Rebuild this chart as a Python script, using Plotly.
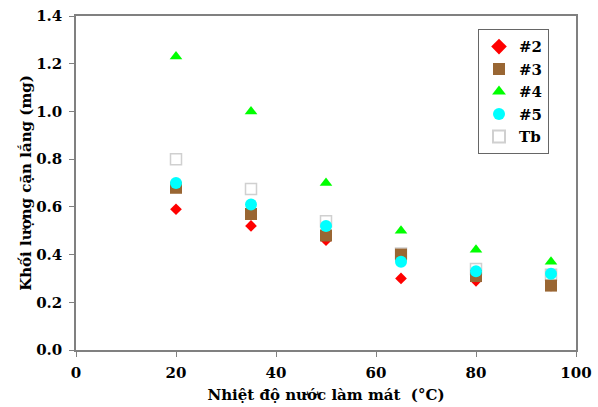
import plotly.graph_objects as go

temps = [20, 35, 50, 65, 80, 95]
s2 = [0.59, 0.52, 0.46, 0.30, 0.29, 0.27]
s3 = [0.68, 0.57, 0.48, 0.40, 0.31, 0.27]
s4 = [1.23, 1.00, 0.70, 0.50, 0.42, 0.37]
s5 = [0.70, 0.61, 0.52, 0.37, 0.33, 0.32]
tb = [0.80, 0.675, 0.54, 0.405, 0.34, 0.315]

x_ticks = [0, 20, 40, 60, 80, 100]
y_ticks = [0.0, 0.2, 0.4, 0.6, 0.8, 1.0, 1.2, 1.4]

FONT = "DejaVu Serif"

fig = go.Figure()
fig.add_trace(go.Scatter(x=temps, y=tb, mode="markers", name="Tb",
                         marker=dict(symbol="square-open", size=11, color="#d0d0d0",
                                     line=dict(width=1.5, color="#d0d0d0"))))
fig.add_trace(go.Scatter(x=temps, y=s2, mode="markers", name="#2",
                         marker=dict(symbol="diamond", size=9, color="#ff0000")))
fig.add_trace(go.Scatter(x=temps, y=s3, mode="markers", name="#3",
                         marker=dict(symbol="square", size=12, color="#996633")))
fig.add_trace(go.Scatter(x=temps, y=s5, mode="markers", name="#5",
                         marker=dict(symbol="circle", size=12, color="#00ffff")))
fig.add_trace(go.Scatter(x=temps, y=s4, mode="markers", name="#4",
                         marker=dict(symbol="triangle-up", size=11, color="#00ff00")))

fig.update_layout(
    width=598, height=407,
    margin=dict(l=76, r=22, t=16, b=57),
    plot_bgcolor="white", paper_bgcolor="white",
    font=dict(family=FONT, size=14, color="black"),
    showlegend=True,
    legend=dict(x=0.804, y=0.96, xanchor="left", yanchor="top",
                bordercolor="#666666", borderwidth=1, bgcolor="white",
                traceorder="normal",
                font=dict(family=FONT, size=15, color="black", weight="bold"),
                itemsizing="constant"),
    xaxis=dict(range=[0, 100], tickvals=x_ticks, ticktext=[str(v) for v in x_ticks],
               automargin=False, ticklabelstandoff=3,
               showgrid=False, zeroline=False, showline=True, linecolor="#808080",
               linewidth=1.5, mirror=True, ticks="outside", ticklen=5, tickcolor="#808080",
               tickfont=dict(family=FONT, size=15, color="black", weight="bold"),
               title=dict(text="<b>Nhiệt độ nước làm mát  (°C)</b>", standoff=9,
                          font=dict(family=FONT, size=15, color="black"))),
    yaxis=dict(range=[0, 1.4], tickvals=y_ticks, ticktext=[f"{v:.1f}" for v in y_ticks],
               automargin=False, ticklabelstandoff=4,
               showgrid=False, zeroline=False, showline=True, linecolor="#808080",
               linewidth=1.5, mirror=True, ticks="outside", ticklen=5, tickcolor="#808080",
               tickfont=dict(family=FONT, size=15, color="black", weight="bold"),
               title=dict(text="<b>Khối lượng cặn lắng (mg)</b>", standoff=1,
                          font=dict(family=FONT, size=15, color="black"))),
)

order = {"#2": 1, "#3": 2, "#4": 3, "#5": 4, "Tb": 5}
for tr in fig.data:
    tr.legendrank = order[tr.name]

fig.write_html("out.html", config={"displayModeBar": False},
               post_script="document.body.style.margin='0';")
